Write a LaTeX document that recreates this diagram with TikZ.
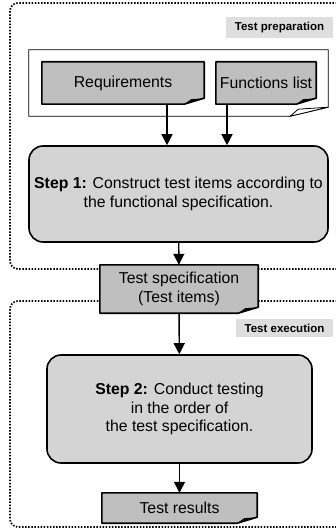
\documentclass[tikz,border=0pt]{standalone}
\usepackage{fontspec}
\setmainfont{Liberation Sans}
\usetikzlibrary{arrows.meta,backgrounds}

\begin{document}
\begin{tikzpicture}[x=1pt, y=-1pt,
    txt/.style={font=\fontsize{15.8}{18.5}\selectfont, align=center, inner sep=0pt},
    notebox/.style={fill=black!25, draw, line width=1.6pt, line join=round},
    stepbox/.style={txt, draw, fill=black!17, line width=1.6pt, rounded corners=14pt},
    tag/.style={fill=black!13, inner sep=0pt, font=\bfseries\fontsize{11.5}{13}\selectfont},
    frame/.style={line width=1.7pt, dash pattern=on 1.5pt off 1.6pt, rounded corners=8pt},
    flow/.style={line width=1.4pt, -{Triangle[width=11pt,length=11pt]}}]

      \useasboundingbox (0,0) rectangle (336,529);

      \draw (279.5,27.5) node[tag, minimum width=107, minimum height=21] (prep) {Test preparation};
      \draw (284.5,328) node[tag, minimum width=97, minimum height=18] (exec) {Test execution};

      \draw (178.5,83) node[minimum width=299, minimum height=66, inner sep=0pt] (wrap) {};
      \draw (123,83) node[txt, minimum width=162, minimum height=42] (req) {Requirements};
      \draw (266,83) node[txt, minimum width=100, minimum height=42] (fun) {Functions list};

      \draw (178.5,194) node[stepbox, minimum width=299, minimum height=96] (step1)
        {\textbf{Step 1:} Construct test items according to\\the functional specification.};

      \draw (179,289) node[txt, minimum width=158, minimum height=48] (spec) {Test specification\\(Test items)};

      \draw (179.5,409) node[stepbox, minimum width=265, minimum height=108] (step2)
        {\textbf{Step 2:} Conduct testing\\in the order of\\the test specification.};

      \draw (179.5,508) node[txt, minimum width=155, minimum height=30] (res) {Test results};

      \begin{scope}[on background layer]
      \draw[frame] (337,3) -- (10,3) -- (10,269) -- (337,269);
      \draw[frame] (337,301) -- (10,301) -- (10,527) -- (337,527);

      \draw[line width=0.8pt, fill=white] (wrap.north west) -- (wrap.north east) -- ([yshift=9]wrap.south east)
        -- ([xshift=-38]wrap.south east) -- (wrap.south west) -- cycle;
      \draw[line width=0.8pt, fill=white] ([xshift=-38]wrap.south east) -- ([xshift=-30,yshift=7]wrap.south east)
        -- ([yshift=9]wrap.south east) -- cycle;

      \foreach \n in {req,fun,spec,res} {
        \draw[notebox] (\n.north west) -- (\n.north east) -- ([yshift=6]\n.south east)
          -- ([xshift=-20]\n.south east) -- (\n.south west) -- cycle;
        \fill ([xshift=-20]\n.south east) -- ([xshift=-13,yshift=5]\n.south east)
          -- ([yshift=6]\n.south east) -- cycle;
      }
      \end{scope}

      \draw[flow] ([xshift=44]req.south) -- ([xshift=44]req.south |- step1.north);
      \draw[flow] ([xshift=-39]fun.south) -- ([xshift=-39]fun.south |- step1.north);
      \draw[flow] (step1) -- (spec);
      \draw[flow] (spec) -- (step2);
      \draw[flow] (step2) -- (res);
    \end{tikzpicture}
\end{document}
